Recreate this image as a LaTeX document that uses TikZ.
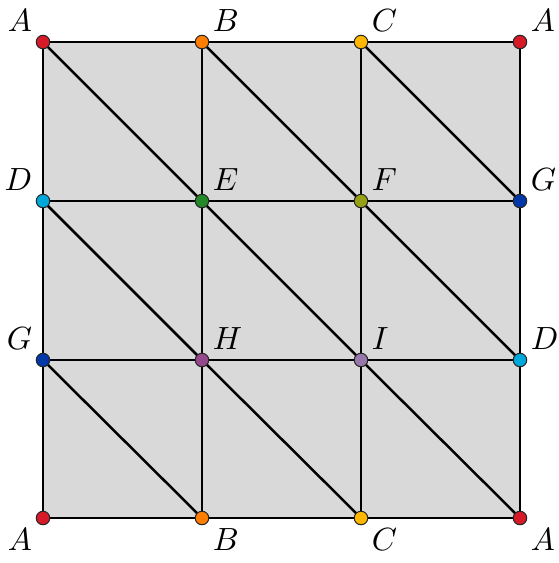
\documentclass[tikz,border=0pt]{standalone}
\usepackage{tikz}
\usetikzlibrary{positioning, calc}
\definecolor{colA}{RGB}{214,26,40}
\definecolor{colB}{RGB}{255,125,0}
\definecolor{colC}{RGB}{255,183,0}
\definecolor{colD}{RGB}{0,168,218}
\definecolor{colE}{RGB}{34,136,40}
\definecolor{colF}{RGB}{150,160,20}
\definecolor{colG}{RGB}{0,56,170}
\definecolor{colH}{RGB}{150,72,140}
\definecolor{colI}{RGB}{150,120,170}
\tikzset{
	vert/.style={circle, draw=black!85, line width=0.35pt, inner sep=0pt, minimum size=0.162cm},
	lab/.style={inner sep=1.8pt, font=\fontsize{11}{13}\selectfont},
	edge/.style={draw=black, line width=0.85pt}
}

\begin{document}
\begin{tikzpicture}[x=0.012cm, y=-0.012cm]
	\useasboundingbox (0,0) rectangle (559,563);
	\fill[black!15] (43,42) rectangle (520,518);
	\coordinate (a1) at (43,42);
	\coordinate (b1) at (202,42);
	\coordinate (c1) at (361,42);
	\coordinate (a2) at (520,42);
	\coordinate (d1) at (43,201);
	\coordinate (e) at (202,201);
	\coordinate (f) at (361,201);
	\coordinate (g1) at (520,201);
	\coordinate (g2) at (43,360);
	\coordinate (h) at (202,360);
	\coordinate (i) at (361,360);
	\coordinate (d2) at (520,360);
	\coordinate (a3) at (43,518);
	\coordinate (b2) at (202,518);
	\coordinate (c2) at (361,518);
	\coordinate (a4) at (520,518);
	\draw[edge] (a1) -- (a2) (d1) -- (g1) (g2) -- (d2) (a3) -- (a4);
	\draw[edge] (a1) -- (a3) (b1) -- (b2) (c1) -- (c2) (a2) -- (a4);
	\draw[edge] (a1) -- (e) (b1) -- (f) (c1) -- (g1);
	\draw[edge] (d1) -- (h) (e) -- (i) (f) -- (d2);
	\draw[edge] (g2) -- (b2) (h) -- (c2) (i) -- (a4);
	\node[vert, fill=colA, label={[lab]above left:$A$}] (pa1) at (a1) {};
	\node[vert, fill=colB, label={[lab]above right:$B$}] (pb1) at (b1) {};
	\node[vert, fill=colC, label={[lab]above right:$C$}] (pc1) at (c1) {};
	\node[vert, fill=colA, label={[lab]above right:$A$}] (pa2) at (a2) {};
	\node[vert, fill=colD, label={[lab]above left:$D$}] (pd1) at (d1) {};
	\node[vert, fill=colE, label={[lab]above right:$E$}] (pe) at (e) {};
	\node[vert, fill=colF, label={[lab]above right:$F$}] (pf) at (f) {};
	\node[vert, fill=colG, label={[lab]above right:$G$}] (pg1) at (g1) {};
	\node[vert, fill=colG, label={[lab]above left:$G$}] (pg2) at (g2) {};
	\node[vert, fill=colH, label={[lab]above right:$H$}] (ph) at (h) {};
	\node[vert, fill=colI, label={[lab]above right:$I$}] (pi) at (i) {};
	\node[vert, fill=colD, label={[lab]above right:$D$}] (pd2) at (d2) {};
	\node[vert, fill=colA, label={[lab]below left:$A$}] (pa3) at (a3) {};
	\node[vert, fill=colB, label={[lab]below right:$B$}] (pb2) at (b2) {};
	\node[vert, fill=colC, label={[lab]below right:$C$}] (pc2) at (c2) {};
	\node[vert, fill=colA, label={[lab]below right:$A$}] (pa4) at (a4) {};
\end{tikzpicture}
\end{document}
